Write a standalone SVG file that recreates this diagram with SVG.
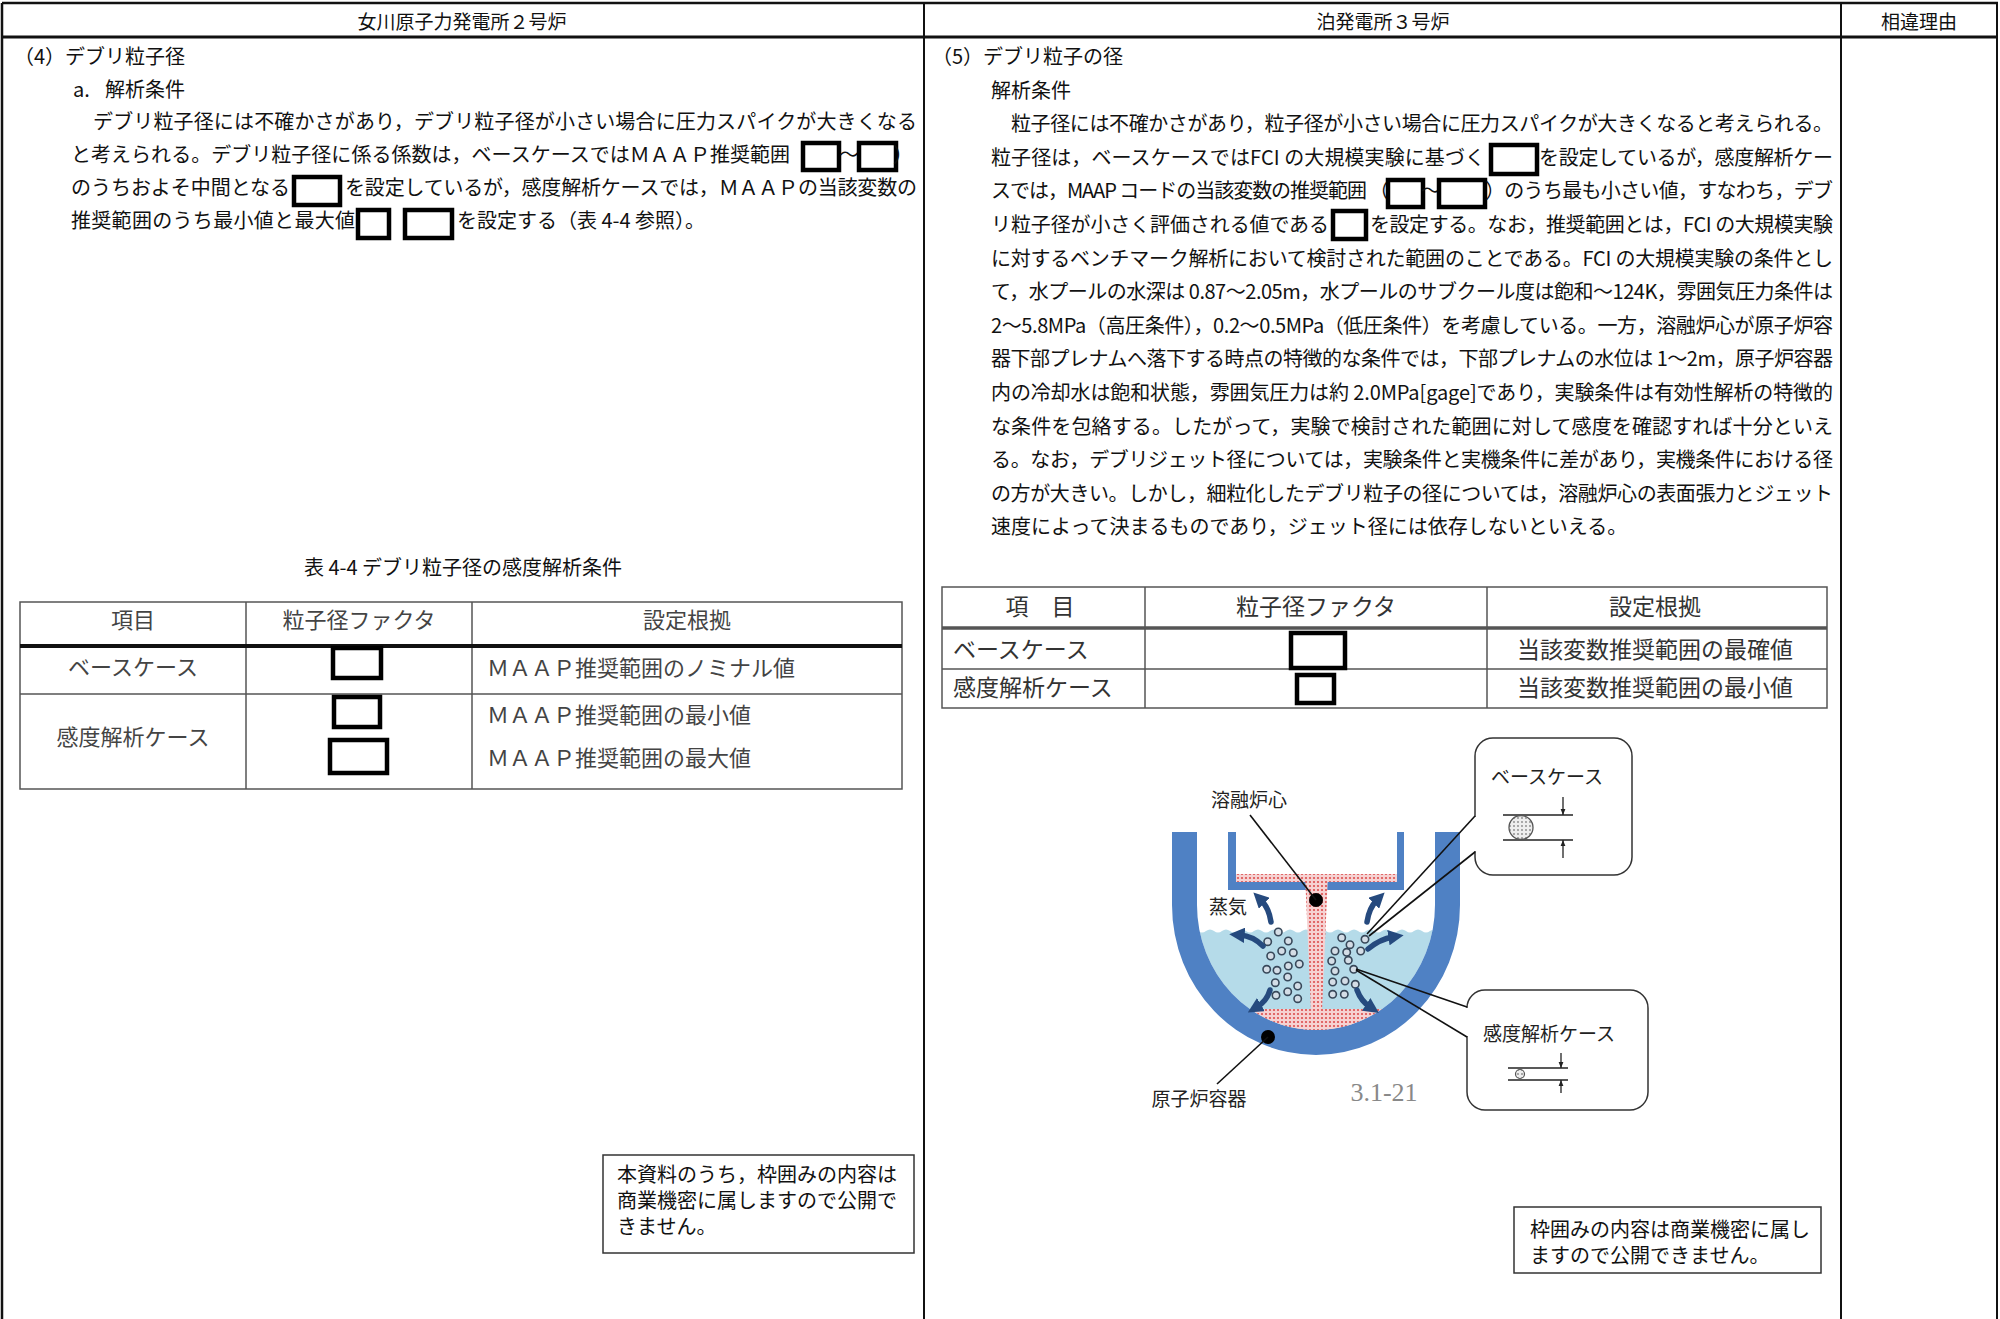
<svg xmlns="http://www.w3.org/2000/svg" width="2000" height="1319" viewBox="0 0 2000 1319">
<style>
.t{font-family:"Noto Sans CJK JP","Noto Sans",sans-serif;font-size:20px;fill:#111}
.hd{font-size:19px;text-anchor:middle}
.tb1{font-size:22px;fill:#444}
.tb2{font-size:23px;fill:#333}
.mid{text-anchor:middle}
.dg{font-size:19px;fill:#222}
.red{fill:#fff;stroke:#000;stroke-width:4.5}
.frame{stroke:#111;fill:none}
.tl{stroke:#555;stroke-width:1.5;fill:none}
.note{fill:#fff;stroke:#333;stroke-width:1.5}
.lead{stroke:#111;stroke-width:1.6;fill:none}
.steam{stroke:#264a7e;stroke-width:5.5;fill:none;stroke-linecap:round;marker-end:url(#steamHead)}
.bub{fill:#d4dde6;stroke:#38485a;stroke-width:1.6}
.dim{stroke:#222;stroke-width:1.3;fill:none}
.dimA{stroke:#222;stroke-width:1.3;fill:none;marker-end:url(#dimHead)}
.vessel{fill:#4f81c4}
.melt{fill:url(#melt)}
</style>
<defs>
<pattern id="melt" width="4" height="4" patternUnits="userSpaceOnUse">
<rect width="4" height="4" fill="#f6d2d2"/>
<circle cx="2" cy="2" r="1.1" fill="#dc4f4f"/>
</pattern>
<pattern id="grain" width="4" height="4" patternUnits="userSpaceOnUse">
<rect width="4" height="4" fill="#eee"/>
<circle cx="2" cy="2" r="0.9" fill="#888"/>
</pattern>
<marker id="steamHead" viewBox="0 0 10 10" refX="3" refY="5" markerWidth="2.8" markerHeight="2.8" orient="auto">
<path d="M0,0 L10,5 L0,10 z" fill="#264a7e"/>
</marker>
<marker id="dimHead" viewBox="0 0 10 10" refX="10" refY="5" markerWidth="6" markerHeight="7" markerUnits="userSpaceOnUse" orient="auto">
<path d="M0,1 L10,5 L0,9 z" fill="#222"/>
</marker>
<clipPath id="innerVessel">
<path d="M1197,832 L1197,905 A119,125 0 0 0 1435,905 L1435,832 Z"/>
</clipPath>
</defs>

<rect width="2000" height="1319" fill="#fff"/>

<g id="frame">
<line class="frame" x1="2" y1="3" x2="1998" y2="3" stroke-width="2.5"/>
<line class="frame" x1="2" y1="37" x2="1998" y2="37" stroke-width="3"/>
<line class="frame" x1="2" y1="3" x2="2" y2="1319" stroke-width="2.5"/>
<line class="frame" x1="924" y1="3" x2="924" y2="1319" stroke-width="2"/>
<line class="frame" x1="1841" y1="3" x2="1841" y2="1319" stroke-width="2"/>
<line class="frame" x1="1997" y1="3" x2="1997" y2="1319" stroke-width="2"/>
</g>

<g id="headers">
<text class="t hd" x="462" y="29">女川原子力発電所２号炉</text>
<text class="t hd" x="1383" y="29">泊発電所３号炉</text>
<text class="t hd" x="1919" y="29">相違理由</text>
</g>

<g id="left-text">
<text class="t" x="14" y="64">（4）デブリ粒子径</text>
<text class="t" x="73" y="97">a.<tspan x="105">解析条件</tspan></text>
<text class="t" x="93" y="129" textLength="824" lengthAdjust="spacing">デブリ粒子径には不確かさがあり，デブリ粒子径が小さい場合に圧力スパイクが大きくなる</text>
<text class="t" x="71" y="162" textLength="719" lengthAdjust="spacing">と考えられる。デブリ粒子径に係る係数は，ベースケースではＭＡＡＰ推奨範囲</text>
<rect class="red" x="803" y="143" width="36" height="27"/>
<text class="t" x="839" y="162">～</text>
<rect class="red" x="859" y="143" width="37" height="27"/>
<text class="t" x="893" y="162">）</text>
<text class="t" x="71" y="195" textLength="219" lengthAdjust="spacing">のうちおよそ中間となる</text>
<rect class="red" x="294" y="177" width="46" height="28"/>
<text class="t" x="345" y="195" textLength="572" lengthAdjust="spacing">を設定しているが，感度解析ケースでは，ＭＡＡＰの当該変数の</text>
<text class="t" x="71" y="228" textLength="284" lengthAdjust="spacing">推奨範囲のうち最小値と最大値</text>
<rect class="red" x="358" y="210" width="31" height="28"/>
<rect class="red" x="405" y="210" width="47" height="28"/>
<text class="t" x="457" y="228">を設定する（表 4-4 参照）。</text>
</g>

<g id="right-text">
<text class="t" x="932" y="64">（5）デブリ粒子の径</text>
<text class="t" x="991" y="98">解析条件</text>
<text class="t" x="1011" y="131" textLength="822" lengthAdjust="spacing">粒子径には不確かさがあり，粒子径が小さい場合に圧力スパイクが大きくなると考えられる。</text>
<text class="t" x="991" y="165" textLength="494" lengthAdjust="spacing">粒子径は，ベースケースではFCI の大規模実験に基づく</text>
<rect class="red" x="1491" y="145" width="46" height="29"/>
<text class="t" x="1539" y="165" textLength="294" lengthAdjust="spacing">を設定しているが，感度解析ケー</text>
<text class="t" x="991" y="198" textLength="376" lengthAdjust="spacing">スでは，MAAP コードの当該変数の推奨範囲</text>
<text class="t" x="1369" y="198">（</text>
<rect class="red" x="1388" y="180" width="35" height="27"/>
<text class="t" x="1421" y="198">～</text>
<rect class="red" x="1439" y="180" width="46" height="27"/>
<text class="t" x="1485" y="198" textLength="348" lengthAdjust="spacing">）のうち最も小さい値，すなわち，デブ</text>
<text class="t" x="991" y="232" textLength="338" lengthAdjust="spacing">リ粒子径が小さく評価される値である</text>
<rect class="red" x="1333" y="211" width="33" height="28"/>
<text class="t" x="1370" y="232" textLength="463" lengthAdjust="spacing">を設定する。なお，推奨範囲とは，FCI の大規模実験</text>
<text class="t" x="991" y="266" textLength="842" lengthAdjust="spacing">に対するベンチマーク解析において検討された範囲のことである。FCI の大規模実験の条件とし</text>
<text class="t" x="991" y="299" textLength="842" lengthAdjust="spacing">て，水プールの水深は 0.87～2.05m，水プールのサブクール度は飽和～124K，雰囲気圧力条件は</text>
<text class="t" x="991" y="333" textLength="842" lengthAdjust="spacing">2～5.8MPa（高圧条件），0.2～0.5MPa（低圧条件）を考慮している。一方，溶融炉心が原子炉容</text>
<text class="t" x="991" y="366" textLength="842" lengthAdjust="spacing">器下部プレナムへ落下する時点の特徴的な条件では，下部プレナムの水位は 1～2m，原子炉容器</text>
<text class="t" x="991" y="400" textLength="842" lengthAdjust="spacing">内の冷却水は飽和状態，雰囲気圧力は約 2.0MPa[gage]であり，実験条件は有効性解析の特徴的</text>
<text class="t" x="991" y="434" textLength="842" lengthAdjust="spacing">な条件を包絡する。したがって，実験で検討された範囲に対して感度を確認すれば十分といえ</text>
<text class="t" x="991" y="467" textLength="842" lengthAdjust="spacing">る。なお，デブリジェット径については，実験条件と実機条件に差があり，実機条件における径</text>
<text class="t" x="991" y="501" textLength="842" lengthAdjust="spacing">の方が大きい。しかし，細粒化したデブリ粒子の径については，溶融炉心の表面張力とジェット</text>
<text class="t" x="991" y="534">速度によって決まるものであり，ジェット径には依存しないといえる。</text>
</g>

<g id="table-4-4">
<text class="t mid" x="463" y="575">表 4-4 デブリ粒子径の感度解析条件</text>
<rect class="tl" x="20" y="602" width="882" height="187"/>
<line class="tl" x1="246" y1="602" x2="246" y2="789"/>
<line class="tl" x1="472" y1="602" x2="472" y2="789"/>
<line x1="20" y1="646" x2="902" y2="646" stroke="#111" stroke-width="4"/>
<line class="tl" x1="20" y1="694" x2="902" y2="694"/>
<text class="t tb1 mid" x="133" y="628">項目</text>
<text class="t tb1 mid" x="359" y="628">粒子径ファクタ</text>
<text class="t tb1 mid" x="687" y="628">設定根拠</text>
<text class="t tb1 mid" x="133" y="675">ベースケース</text>
<text class="t tb1 mid" x="133" y="745">感度解析ケース</text>
<rect class="red" x="333" y="648" width="48" height="30"/>
<rect class="red" x="334" y="697" width="46" height="30"/>
<rect class="red" x="330" y="740" width="57" height="33"/>
<text class="t tb1" x="487" y="676">ＭＡＡＰ推奨範囲のノミナル値</text>
<text class="t tb1" x="487" y="723">ＭＡＡＰ推奨範囲の最小値</text>
<text class="t tb1" x="487" y="766">ＭＡＡＰ推奨範囲の最大値</text>
</g>

<g id="table-right">
<rect class="tl" x="942" y="587" width="885" height="121"/>
<line class="tl" x1="1145" y1="587" x2="1145" y2="708"/>
<line class="tl" x1="1487" y1="587" x2="1487" y2="708"/>
<line x1="942" y1="628" x2="1827" y2="628" stroke="#555" stroke-width="3.5"/>
<line class="tl" x1="942" y1="669" x2="1827" y2="669"/>
<text class="t tb2 mid" x="1040" y="615">項　目</text>
<text class="t tb2 mid" x="1316" y="615">粒子径ファクタ</text>
<text class="t tb2 mid" x="1655" y="615">設定根拠</text>
<text class="t tb2" x="953" y="658">ベースケース</text>
<text class="t tb2" x="953" y="696">感度解析ケース</text>
<rect class="red" x="1291" y="633" width="54" height="35"/>
<rect class="red" x="1297" y="675" width="37" height="28"/>
<text class="t tb2 mid" x="1655" y="658">当該変数推奨範囲の最確値</text>
<text class="t tb2 mid" x="1655" y="696">当該変数推奨範囲の最小値</text>
</g>

<g id="vessel-figure">
<path d="M1190,931 q4,-3 8,0 t8,0 t8,0 t8,0 t8,0 t8,0 t8,0 t8,0 t8,0 t8,0 t8,0 t8,0 t8,0 t8,0 t8,0 t8,0 t8,0 t8,0 t8,0 t8,0 t8,0 t8,0 t8,0 t8,0 t8,0 t8,0 t8,0 t8,0 t8,0 t8,0 t8,0 t8,0 L1446,1060 L1190,1060 Z" fill="#b5dbe9" clip-path="url(#innerVessel)"/>
<path class="vessel" d="M1172,832 L1172,905 A144,150 0 0 0 1460,905 L1460,832 L1435,832 L1435,905 A119,125 0 0 1 1197,905 L1197,832 Z"/>
<rect class="vessel" x="1228" y="832" width="8" height="58"/>
<rect class="vessel" x="1397" y="832" width="7" height="58"/>
<rect class="vessel" x="1228" y="882" width="176" height="8"/>
<rect class="melt" x="1236" y="874" width="161" height="8"/>
<polygon class="melt" points="1305,874 1328,874 1322,1011 1311,1011"/>
<path class="melt" d="M1250,1009 L1382,1009 A119,125 0 0 1 1250,1009 Z"/>
<g id="bubbles">
<circle class="bub" cx="1278.3" cy="932" r="3.7"/>
<circle class="bub" cx="1267.7" cy="941.7" r="3.7"/>
<circle class="bub" cx="1288.3" cy="941" r="3.7"/>
<circle class="bub" cx="1270.7" cy="956" r="3.7"/>
<circle class="bub" cx="1281.7" cy="951" r="3.7"/>
<circle class="bub" cx="1293.3" cy="952.7" r="3.7"/>
<circle class="bub" cx="1266.7" cy="969.3" r="3.7"/>
<circle class="bub" cx="1277" cy="970.3" r="3.7"/>
<circle class="bub" cx="1288.3" cy="966" r="3.7"/>
<circle class="bub" cx="1299.3" cy="964" r="3.7"/>
<circle class="bub" cx="1275.3" cy="982.7" r="3.7"/>
<circle class="bub" cx="1287.7" cy="977" r="3.7"/>
<circle class="bub" cx="1297.7" cy="986" r="3.7"/>
<circle class="bub" cx="1276" cy="995.3" r="3.7"/>
<circle class="bub" cx="1287.7" cy="991.7" r="3.7"/>
<circle class="bub" cx="1297.7" cy="998.7" r="3.7"/>
<circle class="bub" cx="1341.7" cy="937.7" r="3.7"/>
<circle class="bub" cx="1350" cy="944.7" r="3.7"/>
<circle class="bub" cx="1365" cy="939.3" r="3.7"/>
<circle class="bub" cx="1335" cy="951" r="3.7"/>
<circle class="bub" cx="1346.7" cy="952.3" r="3.7"/>
<circle class="bub" cx="1360.7" cy="951" r="3.7"/>
<circle class="bub" cx="1331.7" cy="961" r="3.7"/>
<circle class="bub" cx="1348.3" cy="960.3" r="3.7"/>
<circle class="bub" cx="1353.7" cy="969.3" r="3.7"/>
<circle class="bub" cx="1335" cy="971" r="3.7"/>
<circle class="bub" cx="1345" cy="981" r="3.7"/>
<circle class="bub" cx="1332.7" cy="982" r="3.7"/>
<circle class="bub" cx="1355.3" cy="984.3" r="3.7"/>
<circle class="bub" cx="1332.7" cy="994.3" r="3.7"/>
<circle class="bub" cx="1344.3" cy="994.3" r="3.7"/>
</g>
<g id="steam-arrows">
<path class="steam" d="M1271,922 Q1269,908 1261,900"/>
<path class="steam" d="M1263,946 Q1253,936 1240,935"/>
<path class="steam" d="M1270,990 Q1267,1001 1257,1007"/>
<path class="steam" d="M1367,922 Q1369,908 1377,900"/>
<path class="steam" d="M1368,949 Q1380,939 1393,937"/>
<path class="steam" d="M1357,990 Q1361,1001 1370,1007"/>
</g>
<circle cx="1316" cy="900" r="7" fill="#000"/>
<circle cx="1268" cy="1037" r="7" fill="#000"/>
<text class="t dg mid" x="1249" y="807">溶融炉心</text>
<text class="t dg mid" x="1228" y="914">蒸気</text>
<text class="t dg mid" x="1199" y="1106">原子炉容器</text>
<text x="1384" y="1101" text-anchor="middle" font-family="Liberation Serif, serif" font-size="26" fill="#888">3.1-21</text>
</g>

<g id="callout-base">
<rect x="1475" y="738" width="157" height="137" rx="18" fill="#fff" stroke="#333" stroke-width="1.5"/>
<text class="t dg mid" x="1547" y="784">ベースケース</text>
<line class="dim" x1="1503" y1="815" x2="1573" y2="815"/>
<line class="dim" x1="1503" y1="840" x2="1573" y2="840"/>
<circle cx="1521" cy="827.5" r="12" fill="url(#grain)" stroke="#555" stroke-width="1.3"/>
<line class="dimA" x1="1563" y1="797" x2="1563" y2="815"/>
<line class="dimA" x1="1563" y1="858" x2="1563" y2="840"/>
</g>

<g id="callout-sens">
<rect x="1467" y="990" width="181" height="120" rx="18" fill="#fff" stroke="#333" stroke-width="1.5"/>
<text class="t dg mid" x="1549" y="1041">感度解析ケース</text>
<line class="dim" x1="1508" y1="1068" x2="1568" y2="1068"/>
<line class="dim" x1="1508" y1="1080" x2="1568" y2="1080"/>
<circle cx="1520" cy="1074" r="4.5" fill="url(#grain)" stroke="#555" stroke-width="1.2"/>
<line class="dimA" x1="1561" y1="1053" x2="1561" y2="1068"/>
<line class="dimA" x1="1561" y1="1093" x2="1561" y2="1080"/>
</g>

<g id="connectors">
<line class="lead" x1="1250" y1="815" x2="1316" y2="900"/>
<line class="lead" x1="1268" y1="1037" x2="1217" y2="1084"/>
<line x1="1475" y1="817" x2="1475" y2="851" stroke="#fff" stroke-width="3"/>
<line class="lead" x1="1475" y1="816" x2="1367" y2="934" stroke="#333" stroke-width="1.3"/>
<line class="lead" x1="1475" y1="852" x2="1369" y2="936" stroke="#333" stroke-width="1.3"/>
<line x1="1467" y1="1008" x2="1467" y2="1036" stroke="#fff" stroke-width="3"/>
<line class="lead" x1="1467" y1="1007" x2="1356" y2="969" stroke="#333" stroke-width="1.3"/>
<line class="lead" x1="1467" y1="1037" x2="1356" y2="970" stroke="#333" stroke-width="1.3"/>
</g>

<g id="note-left">
<rect class="note" x="603" y="1155" width="311" height="98"/>
<text class="t" x="617" y="1182">本資料のうち，枠囲みの内容は</text>
<text class="t" x="617" y="1208">商業機密に属しますので公開で</text>
<text class="t" x="617" y="1234">きません。</text>
</g>

<g id="note-right">
<rect class="note" x="1514" y="1207" width="307" height="66"/>
<text class="t" x="1530" y="1237">枠囲みの内容は商業機密に属し</text>
<text class="t" x="1530" y="1263">ますので公開できません。</text>
</g>
</svg>
